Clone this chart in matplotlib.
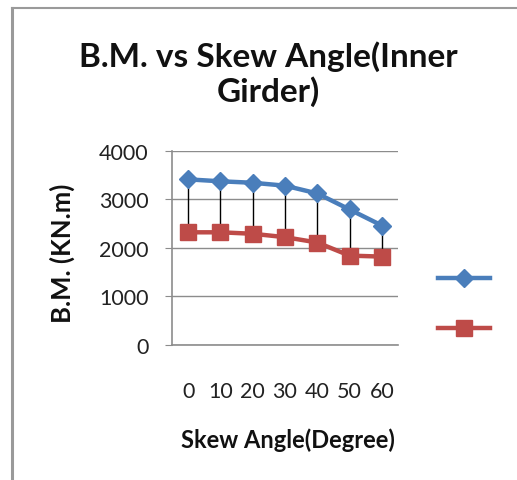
import matplotlib.pyplot as plt
from matplotlib.lines import Line2D

# Data
angles = ['0', '10', '20', '30', '40', '50', '60']
bm_series1 = [3410, 3370, 3340, 3280, 3120, 2790, 2460]
bm_series2 = [2320, 2320, 2290, 2220, 2110, 1840, 1820]
y_ticks = [0, 1000, 2000, 3000, 4000]

blue = '#4A7EBB'
red = '#BE4B48'
grid_col = '#8C8C8C'

plt.rcParams['font.family'] = ['Lato', 'DejaVu Sans']

fig = plt.figure(figsize=(5.17, 4.81), dpi=100)
W, H = 517, 481

# plot area in pixel coords
x0, x1 = 172, 398
y_top, y_bot = 151.7, 346
ax = fig.add_axes([x0 / W, 1 - y_bot / H, (x1 - x0) / W, (y_bot - y_top) / H])

x = list(range(len(angles)))

# high-low lines
ax.vlines(x, bm_series2, bm_series1, color='black', linewidth=1.0, zorder=2)

ax.plot(x, bm_series1, color=blue, linewidth=3.2, marker='D', markersize=9,
        markerfacecolor=blue, markeredgecolor=blue, zorder=3)
ax.plot(x, bm_series2, color=red, linewidth=3.2, marker='s', markersize=11,
        markerfacecolor=red, markeredgecolor=red, zorder=3)

ax.set_xlim(-0.5, len(angles) - 0.5)
ax.set_ylim(0, 4000)
ax.set_yticks(y_ticks)
ax.set_xticks(x)
ax.set_xticklabels(angles)
ax.yaxis.grid(True, color=grid_col, linewidth=1.0)
ax.set_axisbelow(True)

for s in ['top', 'right']:
    ax.spines[s].set_visible(False)
for s in ['left', 'bottom']:
    ax.spines[s].set_color('#8C8C8C')
    ax.spines[s].set_linewidth(1.2)

ax.tick_params(axis='y', length=5, color=grid_col, pad=12, labelsize=15.5,
               labelcolor='#222222')
ax.tick_params(axis='x', length=0, pad=26, labelsize=15.5, labelcolor='#222222')

# titles and labels
fig.text(268 / W, 1 - 74 / H, 'B.M. vs Skew Angle(Inner\nGirder)', ha='center',
         va='center', fontsize=24, fontweight='bold', linespacing=1.15,
         color='#111111')
fig.text(288 / W, 1 - 440 / H, 'Skew Angle(Degree)', ha='center', va='center',
         fontsize=17, fontweight='bold', color='#111111')
fig.text(62 / W, 1 - 253 / H, 'B.M. (KN.m)', ha='center', va='center',
         rotation=90, fontsize=18.5, fontweight='bold', color='#111111')

# legend entries without labels
leg_handles = [
    Line2D([], [], color=blue, linewidth=3.2, marker='D', markersize=9),
    Line2D([], [], color=red, linewidth=3.2, marker='s', markersize=11),
]
fig.legend(leg_handles, ['', ''], loc='center', bbox_to_anchor=(464 / W, 1 - 305 / H),
           frameon=False, handlelength=2.7, handletextpad=0, labelspacing=1.7,
           fontsize=14)

# outer frame (left and top edges)
fig.add_artist(Line2D([12 / W, 12 / W], [0, 1 - 9 / H], color='#9A9A9A',
                      linewidth=2.2, transform=fig.transFigure))
fig.add_artist(Line2D([12 / W, 1], [1 - 9 / H, 1 - 9 / H], color='#9A9A9A',
                      linewidth=1.5, transform=fig.transFigure))

fig.savefig('out.png', dpi=100)
